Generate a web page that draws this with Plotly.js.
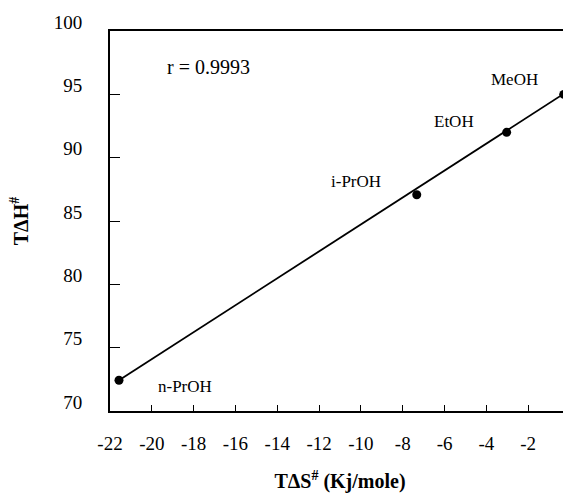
<!DOCTYPE html>
<html>
<head>
<meta charset="utf-8">
<script src="https://cdn.plot.ly/plotly-3.0.1.min.js"></script>
<style>
html,body{margin:0;padding:0;overflow:hidden;background:#fff;}
#chart{width:580px;height:493px;}
</style>
</head>
<body>
<div id="chart"></div>
<script>
// Data
const solvents = ['MeOH', 'EtOH', 'i-PrOH', 'n-PrOH'];
const tdS = [-0.3, -3.03, -7.33, -21.57];      // TΔS# (Kj/mole)
const tdH = [95.0, 92.0, 87.07, 72.43];        // TΔH#
const fitX = [-21.57, 0];
const fitY = [72.43, 95.36];
const labelX = [-2.64, -5.55, -10.24, -18.43];
const labelY = [96.14, 92.85, 88.12, 71.96];
const rText = 'r = 0.9993';
const rPos = [-17.31, 97.17];
const xTicks = [-22, -20, -18, -16, -14, -12, -10, -8, -6, -4, -2];
const yTicks = [70, 75, 80, 85, 90, 95, 100];

const serif = "'Liberation Serif', 'DejaVu Serif', serif";

const traces = [
  {
    x: fitX, y: fitY, mode: 'lines', type: 'scatter',
    line: {color: '#000', width: 1.8}, hoverinfo: 'skip', showlegend: false
  },
  {
    x: tdS, y: tdH, mode: 'markers', type: 'scatter', text: solvents,
    marker: {color: '#000', size: 9}, showlegend: false
  }
];

const annotations = solvents.map((s, i) => ({
  x: labelX[i], y: labelY[i], xref: 'x', yref: 'y', text: s,
  showarrow: false, font: {family: serif, size: 17, color: '#000'}
}));
annotations.push({
  x: rPos[0], y: rPos[1], xref: 'x', yref: 'y', text: rText,
  showarrow: false, font: {family: serif, size: 20, color: '#000'}
});

const layout = {
  width: 580, height: 493,
  margin: {l: 110, r: 10, t: 31, b: 82},
  paper_bgcolor: '#fff', plot_bgcolor: '#fff',
  font: {family: serif, color: '#000'},
  showlegend: false,
  xaxis: {
    range: [-22, 0], tickvals: xTicks, ticktext: xTicks.map(String),
    showgrid: false, zeroline: false,
    showline: true, mirror: true, linecolor: '#000', linewidth: 2,
    ticks: 'inside', ticklen: 6, tickcolor: '#000', tickwidth: 1,
    ticklabelstandoff: 14,
    tickfont: {family: serif, size: 19, color: '#000'},
    title: {text: '<b>TΔS<sup>#</sup> (Kj/mole)</b>', font: {family: serif, size: 20, color: '#000'}, standoff: 25},
    automargin: false
  },
  yaxis: {
    range: [70, 100], tickvals: yTicks, ticktext: yTicks.map(String),
    showgrid: false, zeroline: false,
    showline: true, mirror: true, linecolor: '#000', linewidth: 2,
    ticks: 'inside', ticklen: 10, tickcolor: '#000', tickwidth: 1,
    ticklabelstandoff: 22, ticklabelshift: -9,
    tickfont: {family: serif, size: 19, color: '#000'},
    title: {text: '<b>TΔH<sup>#</sup></b>', font: {family: serif, size: 20, color: '#000'}, standoff: 20},
    automargin: false
  },
  annotations: annotations
};

Plotly.newPlot('chart', traces, layout, {displayModeBar: false, staticPlot: true});
</script>
</body>
</html>
